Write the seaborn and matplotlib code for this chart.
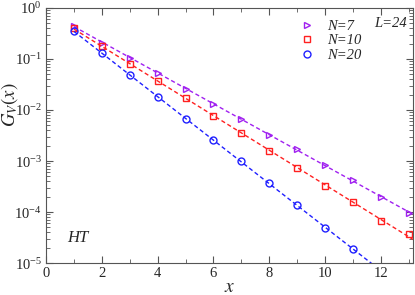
import numpy as np
import pandas as pd
import matplotlib
matplotlib.use('Agg')
import matplotlib.pyplot as plt
import seaborn as sns
from matplotlib.ticker import LogLocator, MultipleLocator, NullFormatter

# data
x7 = [1, 2, 3, 4, 5, 6, 7, 8, 9, 10, 11, 12, 13]
g7 = [0.45, 0.21, 0.105, 0.053, 0.026, 0.013, 0.0066, 0.0033, 0.0017, 0.00084, 0.00042, 0.000198, 0.000097]
x10 = [1, 2, 3, 4, 5, 6, 7, 8, 9, 10, 11, 12, 13]
g10 = [0.40, 0.18, 0.080, 0.037, 0.017, 0.0078, 0.0035, 0.0016, 0.00074, 0.00033, 0.000155, 0.000068, 0.000037]
x20 = [1, 2, 3, 4, 5, 6, 7, 8, 9, 10, 11]
g20 = [0.35, 0.13, 0.048, 0.018, 0.0068, 0.0026, 0.00099, 0.00037, 0.000137, 0.000049, 0.0000188]
labels = ['N=7', 'N=10', 'N=20']
colors = ['#a020f0', '#ff2020', '#2020ff']
markers = ['>', 's', 'o']

sns.set_style('ticks')
plt.rcParams['font.family'] = ['Liberation Serif', 'DejaVu Serif']
plt.rcParams['mathtext.fontset'] = 'stix'

fig = plt.figure(figsize=(4.15, 2.95), dpi=100)
ax = fig.add_axes([0.111, 0.108, 0.884, 0.865])

series = [(x7, g7), (x10, g10), (x20, g20)]
xfit = np.linspace(1, 13.3, 50)
for (xs, gs), lab, c, m in zip(series, labels, colors, markers):
    df = pd.DataFrame({'x': xs, 'G': gs})
    # exponential fit -> dashed line
    p = np.polyfit(df['x'], np.log(df['G']), 1)
    fit = pd.DataFrame({'x': xfit, 'G': np.exp(np.polyval(p, xfit))})
    sns.lineplot(data=fit, x='x', y='G', ax=ax, color=c, linestyle=(0, (3, 2)),
                 linewidth=1.0, legend=False)
    sns.lineplot(data=df, x='x', y='G', ax=ax, color=c, marker=m, linestyle='',
                 markersize=5, markerfacecolor='none', markeredgecolor=c,
                 markeredgewidth=1.0, label=lab)

ax.set_yscale('log')
ax.set_xlim(0, 13.15)
ax.set_ylim(1e-5, 1)
ax.xaxis.set_major_locator(MultipleLocator(2))
ax.xaxis.set_minor_locator(MultipleLocator(1))
ax.yaxis.set_major_locator(LogLocator(base=10, numticks=10))
ax.yaxis.set_minor_locator(LogLocator(base=10, subs=np.arange(2, 10), numticks=10))
ax.yaxis.set_minor_formatter(NullFormatter())
ax.tick_params(which='both', direction='in', top=True, right=True, color='#555555')
ax.tick_params(which='major', length=5, labelsize=10.5, pad=3)
ax.tick_params(which='minor', length=3)
for s in ax.spines.values():
    s.set_color('#555555')

ax.set_xlabel('$x$', fontsize=14)
ax.set_ylabel('$G_V(x)$', fontsize=13.5)
ax.xaxis.set_label_coords(0.5, -0.062)
ax.yaxis.set_label_coords(-0.07, 0.62)

h, l = ax.get_legend_handles_labels()
ax.legend(h, l, loc='upper left', bbox_to_anchor=(0.655, 1.005), frameon=False,
          handlelength=1.0, handletextpad=0.9, labelspacing=0.08,
          prop={'style': 'italic', 'size': 10.5})
ax.text(0.894, 0.94, 'L=24', transform=ax.transAxes, fontsize=10.5, style='italic',
        ha='left', va='center')
ax.text(0.057, 0.098, 'HT', transform=ax.transAxes, fontsize=12, style='italic',
        ha='left', va='center')

fig.savefig('out.png', dpi=100)
